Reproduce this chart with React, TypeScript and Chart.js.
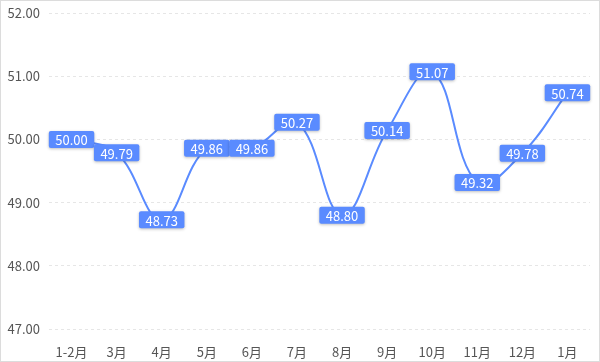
import React, { useEffect, useRef } from "react";
import { Chart, registerables } from "chart.js";

Chart.register(...registerables);

const categories = ["1-2月", "3月", "4月", "5月", "6月", "7月", "8月", "9月", "10月", "11月", "12月", "1月"];
const values = [50.0, 49.79, 48.73, 49.86, 49.86, 50.27, 48.8, 50.14, 51.07, 49.32, 49.78, 50.74];
const yMin = 47;
const yMax = 52;
const yStep = 1;

const FONT = "'Noto Sans CJK SC', 'Noto Sans', sans-serif";
const BLUE = "#5a8bff";

const labelPlugin = {
  id: "boxLabels",
  afterDatasetsDraw(chart: any) {
    const ctx = chart.ctx;
    const meta = chart.getDatasetMeta(0);
    const data = chart.data.datasets[0].data as number[];
    ctx.save();
    ctx.font = `13px ${FONT}`;
    ctx.textAlign = "center";
    ctx.textBaseline = "middle";
    meta.data.forEach((pt: any, i: number) => {
      const txt = data[i].toFixed(2);
      const w = ctx.measureText(txt).width + 13;
      const h = 17;
      const x = pt.x - w / 2;
      const y = pt.y - h / 2;
      ctx.save();
      ctx.shadowColor = "rgba(0,0,0,0.25)";
      ctx.shadowBlur = 3;
      ctx.shadowOffsetY = 1;
      ctx.fillStyle = BLUE;
      ctx.beginPath();
      (ctx as any).roundRect(x, y, w, h, 2);
      ctx.fill();
      ctx.restore();
      ctx.fillStyle = "#ffffff";
      ctx.fillText(txt, pt.x, pt.y + 1);
    });
    ctx.restore();
  },
};

export default function App() {
  const ref = useRef<HTMLCanvasElement>(null);
  useEffect(() => {
    document.body.style.margin = "0";
    const chart = new Chart(ref.current!, {
      type: "line",
      data: {
        labels: categories,
        datasets: [
          {
            data: values,
            borderColor: BLUE,
            backgroundColor: BLUE,
            borderWidth: 2,
            tension: 0.4,
            pointRadius: 0,
            fill: false,
          },
        ],
      },
      options: {
        animation: false,
        responsive: false,
        layout: { padding: { top: 12, right: 9, left: 0, bottom: 0 } },
        plugins: { legend: { display: false }, tooltip: { enabled: false } },
        scales: {
          x: {
            offset: true,
            grid: { display: false },
            border: { display: false },
            ticks: { color: "#555", font: { size: 13, family: FONT }, padding: 7, maxRotation: 0, autoSkip: false },
            afterFit: (s: any) => { s.height = 32; },
          },
          y: {
            min: yMin,
            max: yMax,
            ticks: {
              stepSize: yStep,
              color: "#555",
              font: { size: 13, family: FONT },
              padding: 9,
              callback: (v: any) => Number(v).toFixed(2),
            },
            grid: { color: "#e6e6e6", drawTicks: false },
            border: { display: false, dash: [3, 3] },
            afterFit: (s: any) => { s.width = 48; s.paddingTop = 0; s.paddingBottom = 0; },
          },
        },
      },
      plugins: [labelPlugin],
    });
    return () => chart.destroy();
  }, []);
  return (
    <div style={{ width: 600, height: 362, border: "1px solid #dcdcdc", boxSizing: "border-box", background: "#fff" }}>
      <canvas ref={ref} width={598} height={360} style={{ display: "block" }} />
    </div>
  );
}
